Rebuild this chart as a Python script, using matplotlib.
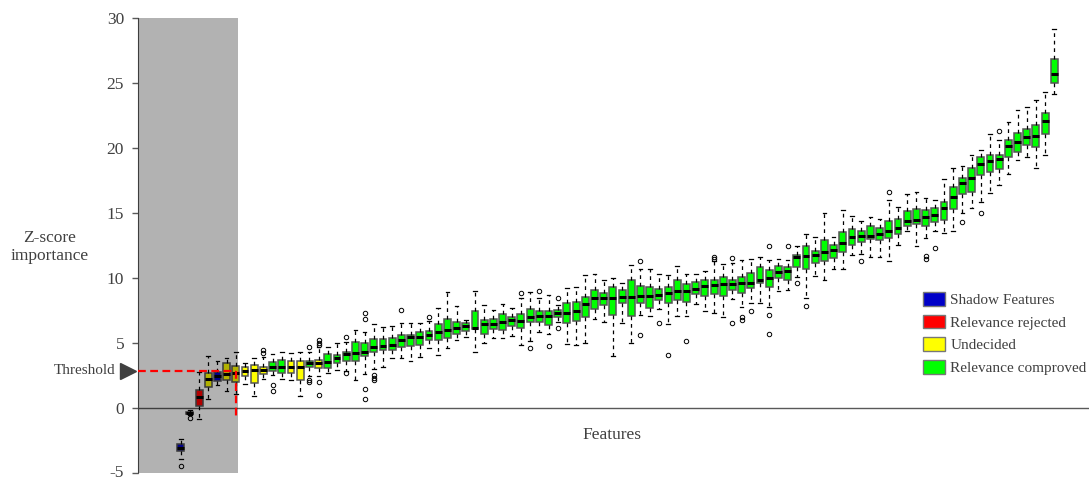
import matplotlib.pyplot as plt
import matplotlib.transforms as mtransforms
from matplotlib.patches import Patch

# per-feature box statistics (Z-score importance)
whislo = [-3.9, -0.5, -0.85, 0.7, 1.8, 1.3, 1.1, 1.85, 0.95, 2.25,
          2.55, 2.25, 2.2, 0.95, 2.5, 2.5, 2.75, 2.95, 2.85, 2.2,
          2.6, 3.0, 3.2, 3.9, 3.9, 3.6, 3.95, 4.6, 4.1, 4.6,
          5.25, 5.45, 4.3, 5.0, 5.4, 5.4, 5.55, 4.9, 5.15, 5.9,
          5.75, 6.65, 4.95, 4.85, 5.05, 6.9, 6.65, 4.0, 6.55, 5.05,
          7.2, 7.1, 7.6, 6.5, 7.1, 7.1, 8.0, 7.5, 7.3, 7.05,
          8.4, 7.8, 8.1, 8.1, 7.8, 9.0, 9.1, 10.1, 8.45, 10.2,
          9.85, 10.75, 10.7, 11.8, 11.9, 11.65, 11.65, 11.3, 12.55, 13.6,
          12.45, 13.1, 13.65, 13.45, 13.65, 15.0, 15.4, 15.9, 16.55, 17.2,
          18.0, 19.1, 19.35, 18.45, 19.5, 24.15]
q1 = [-3.3, -0.42, 0.15, 1.65, 2.1, 2.2, 2.05, 2.5, 1.95, 2.65,
      2.9, 2.75, 2.7, 2.2, 3.15, 3.1, 3.1, 3.5, 3.65, 3.65,
      4.0, 4.3, 4.45, 4.5, 4.75, 4.8, 4.85, 5.25, 5.25, 5.4,
      5.75, 5.95, 6.1, 5.75, 6.1, 6.0, 6.3, 6.2, 6.6, 6.6,
      6.4, 7.05, 6.55, 6.75, 7.05, 7.6, 7.95, 7.2, 8.1, 7.1,
      8.1, 7.7, 8.35, 8.1, 8.3, 8.2, 8.8, 8.65, 8.8, 8.65,
      9.1, 8.9, 9.25, 9.6, 9.35, 10.0, 9.9, 10.9, 10.7, 11.15,
      11.35, 11.55, 12.05, 12.55, 12.8, 13.0, 12.95, 13.1, 13.4, 14.0,
      14.2, 14.0, 14.3, 14.5, 15.3, 16.5, 16.65, 17.95, 18.15, 18.4,
      19.3, 19.7, 20.25, 20.1, 21.1, 25.0]
med = [-3.05, -0.35, 0.9, 2.25, 2.45, 2.6, 2.7, 2.9, 2.95, 2.95,
       3.2, 3.15, 3.15, 3.2, 3.45, 3.5, 3.55, 3.85, 4.2, 4.25,
       4.3, 4.75, 4.8, 4.9, 5.25, 5.45, 5.5, 5.65, 5.9, 6.0,
       6.15, 6.3, 6.2, 6.45, 6.45, 6.6, 6.8, 6.75, 7.0, 7.1,
       7.1, 7.3, 7.3, 7.5, 8.0, 8.45, 8.45, 8.5, 8.55, 8.55,
       8.65, 8.65, 8.7, 8.9, 9.0, 9.0, 9.15, 9.4, 9.5, 9.55,
       9.55, 9.6, 9.65, 9.9, 10.05, 10.45, 10.55, 11.65, 11.7, 11.8,
       12.05, 12.2, 12.75, 13.15, 13.25, 13.25, 13.4, 13.6, 13.9, 14.4,
       14.5, 14.75, 14.85, 15.4, 16.25, 17.35, 17.7, 18.8, 19.05, 19.2,
       20.2, 20.5, 20.9, 20.95, 22.1, 25.75]
q3 = [-2.75, -0.28, 1.4, 2.7, 2.8, 3.45, 3.25, 3.15, 3.3, 3.2,
      3.55, 3.75, 3.65, 3.65, 3.65, 3.7, 4.2, 4.1, 4.3, 5.1,
      5.05, 5.3, 5.3, 5.4, 5.65, 5.6, 5.9, 5.95, 6.45, 6.9,
      6.65, 6.55, 7.5, 6.8, 6.85, 7.25, 7.0, 7.25, 7.6, 7.45,
      7.5, 7.55, 8.1, 8.2, 8.55, 9.1, 8.85, 9.35, 9.1, 9.85,
      9.4, 9.3, 9.15, 9.35, 9.85, 9.55, 9.7, 9.9, 9.9, 10.1,
      9.9, 10.1, 10.4, 10.85, 10.6, 10.95, 10.9, 11.8, 12.45, 12.1,
      12.95, 12.55, 13.55, 13.8, 13.65, 14.05, 13.9, 14.4, 14.55, 15.15,
      15.3, 15.25, 15.4, 15.9, 17.05, 17.75, 18.45, 19.35, 19.5, 19.5,
      20.65, 21.2, 21.5, 21.8, 22.7, 26.85]
whishi = [-2.4, -0.15, 2.8, 4.0, 3.65, 3.9, 4.3, 3.45, 3.85, 3.95,
          4.2, 4.35, 4.25, 4.35, 4.3, 4.7, 4.7, 5.05, 5.1, 6.05,
          5.9, 6.45, 6.25, 6.35, 6.55, 6.55, 6.55, 6.75, 7.75, 8.95,
          7.85, 6.8, 9.0, 7.95, 7.55, 8.0, 7.75, 8.45, 8.95, 8.45,
          8.7, 7.95, 9.25, 9.3, 10.25, 10.35, 9.9, 10.0, 9.65, 11.0,
          10.7, 10.7, 10.35, 10.25, 10.95, 10.35, 10.35, 10.55, 11.3, 11.1,
          11.15, 11.4, 11.45, 11.65, 11.4, 11.45, 11.4, 12.45, 13.4, 13.2,
          15.0, 13.15, 15.25, 14.8, 14.4, 14.75, 14.55, 16.05, 15.5, 16.45,
          16.65, 16.15, 16.0, 17.6, 18.5, 18.65, 19.45, 19.85, 21.1, 20.6,
          22.0, 22.95, 23.2, 23.75, 24.3, 29.15]
outliers = {1: [-4.45], 2: [-0.75], 10: [4.25, 4.5], 11: [1.8, 1.3],
            15: [4.75, 2.2, 2.0], 16: [4.9, 5.05, 5.25, 2.05, 1.0],
            19: [5.45, 2.7], 21: [7.3, 6.9, 1.45, 0.7], 22: [2.55, 2.35, 2.15],
            25: [7.55], 28: [7.0], 38: [8.9], 39: [4.65], 40: [9.0], 41: [4.8],
            42: [8.5, 6.2], 51: [11.35, 5.65], 53: [6.55], 54: [4.1], 56: [5.15],
            59: [11.5, 11.6], 61: [11.55, 6.55], 62: [7.0, 6.8], 63: [7.45],
            65: [12.5, 7.2, 5.7], 67: [12.5], 68: [9.6], 69: [7.9], 75: [11.3],
            78: [16.65], 82: [11.7, 11.45], 83: [12.3], 86: [14.3], 88: [15.05],
            90: [21.35]}
# S = shadow, R = rejected, T = tentative, C = confirmed
status = "SRRTSTTTTTCCTTCT" + "C" * 80

colors = {"S": "#0000c8", "R": "#ff0000", "T": "#ffff00", "C": "#00ff00"}
legend_labels = ["Shadow Features", "Relevance rejected", "Undecided", "Relevance comproved"]
threshold = 2.9

plt.rcParams["font.family"] = ["Liberation Serif", "DejaVu Serif"]
plt.rcParams["axes.unicode_minus"] = False
text_col = "#404040"

fig = plt.figure(figsize=(10.89, 4.79), dpi=100)
ax = fig.add_axes([0.1267, 0.0119, 0.8733, 0.9499])

n = len(med)
positions = list(range(1, n + 1))
stats = []
for i in range(n):
    stats.append(dict(whislo=whislo[i], q1=q1[i], med=med[i], q3=q3[i],
                      whishi=whishi[i], fliers=outliers.get(i + 1, [])))

bp = ax.bxp(stats, positions=positions, widths=0.75, capwidths=0.4,
            patch_artist=True, manage_ticks=False,
            boxprops=dict(edgecolor="#555555", linewidth=1.1),
            medianprops=dict(color="black", linewidth=2.2, solid_capstyle="butt"),
            whiskerprops=dict(color="black", linewidth=0.9, linestyle=(0, (3, 3))),
            capprops=dict(color="black", linewidth=0.9),
            flierprops=dict(marker="o", markersize=3.2, markerfacecolor="none",
                            markeredgecolor="black", markeredgewidth=0.7))
for box, s in zip(bp["boxes"], status):
    box.set_facecolor(colors[s])

x_left, x_right = -3.643, 99.77
ax.set_xlim(x_left, x_right)
ax.set_ylim(-5, 30)

# shaded area over the shadow / rejected block
ax.axvspan(x_left, 7.26, color="black", alpha=0.3, lw=0, zorder=3)
ax.axhline(0, color="#595959", lw=1, zorder=1)

# threshold marker
ax.plot([x_left, 7], [threshold, threshold], color="red", lw=1.6,
        linestyle=(0, (3.5, 2)), zorder=4, clip_on=False)
ax.plot([7, 7], [threshold, -0.8], color="red", lw=1.6,
        linestyle=(0, (3.5, 2)), zorder=4)
ax.plot([-4.75], [threshold], marker=">", markersize=12, color="#404040",
        clip_on=False, zorder=5)
ax.text(-6.1, threshold, "Threshold", ha="right", va="center", fontsize=11,
        color=text_col)

for side in ["top", "right", "bottom"]:
    ax.spines[side].set_visible(False)
ax.spines["left"].set_color("#595959")
ax.set_xticks([])
ax.set_yticks(range(-5, 31, 5))
ax.tick_params(axis="y", length=4, width=1, color="#595959", pad=6,
               labelsize=12.5, labelcolor=text_col)
# keep the lowest tick label inside the canvas
lowest = ax.get_yticklabels()[0]
lowest.set_transform(lowest.get_transform() +
                     mtransforms.ScaledTranslation(0, 2 / 72, fig.dpi_scale_trans))

fig.text(50 / 1089, 1 - 247 / 479, "Z-score\nimportance", ha="center",
         va="center", fontsize=12.5, color=text_col, linespacing=1.15)
fig.text(612 / 1089, 1 - 435 / 479, "Features", ha="center", va="center",
         fontsize=12.5, color=text_col)

handles = [Patch(facecolor=colors[k], edgecolor="#777777") for k in "SRTC"]
fig.legend(handles, legend_labels, loc="upper left",
           bbox_to_anchor=(923 / 1089, 1 - 292 / 479), frameon=False,
           fontsize=11, labelcolor=text_col, handlelength=1.45,
           handleheight=1.0, handletextpad=0.35, labelspacing=0.5,
           borderpad=0, borderaxespad=0)

fig.savefig("out.png", dpi=100)
